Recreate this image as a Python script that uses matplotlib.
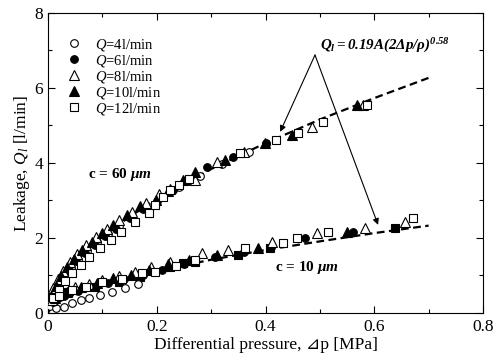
import matplotlib
matplotlib.use("Agg")
import matplotlib.pyplot as plt
from matplotlib.ticker import MultipleLocator

plt.rcParams['font.family'] = ['Liberation Serif', 'DejaVu Serif', 'DejaVu Sans']
plt.rcParams['mathtext.fontset'] = 'custom'
plt.rcParams['mathtext.rm'] = 'Liberation Serif'
plt.rcParams['mathtext.it'] = 'Liberation Serif:italic'
plt.rcParams['mathtext.bf'] = 'Liberation Serif:bold:italic'

# ---- data: differential pressure [MPa], leakage [l/min]
# clearance c = 60 um
p60_q4 = [0.005, 0.012, 0.02, 0.03, 0.042, 0.056, 0.072, 0.09, 0.11, 0.13, 0.155, 0.18, 0.21, 0.24, 0.28, 0.32, 0.37, 0.40]
l60_q4 = [0.30, 0.55, 0.78, 0.98, 1.20, 1.42, 1.64, 1.88, 2.10, 2.33, 2.58, 2.82, 3.10, 3.35, 3.66, 3.96, 4.30, 4.50]
p60_q6 = [0.008, 0.016, 0.026, 0.038, 0.052, 0.068, 0.086, 0.105, 0.125, 0.15, 0.175, 0.2, 0.23, 0.26, 0.292, 0.34, 0.40]
l60_q6 = [0.42, 0.68, 0.92, 1.15, 1.38, 1.60, 1.82, 2.05, 2.25, 2.52, 2.76, 2.98, 3.27, 3.52, 3.89, 4.15, 4.52]
p60_q8 = [0.004, 0.01, 0.018, 0.028, 0.04, 0.054, 0.07, 0.088, 0.108, 0.13, 0.155, 0.18, 0.205, 0.225, 0.27, 0.311, 0.36, 0.486, 0.58]
l60_q8 = [0.40, 0.66, 0.90, 1.12, 1.36, 1.58, 1.80, 2.02, 2.25, 2.47, 2.70, 2.93, 3.16, 3.30, 3.55, 4.03, 4.28, 4.96, 5.55]
p60_q10 = [0.006, 0.014, 0.024, 0.035, 0.048, 0.063, 0.08, 0.1, 0.12, 0.145, 0.17, 0.198, 0.22, 0.248, 0.27, 0.325, 0.399, 0.449, 0.568]
l60_q10 = [0.45, 0.72, 0.98, 1.22, 1.45, 1.68, 1.90, 2.12, 2.35, 2.60, 2.85, 3.00, 3.25, 3.55, 3.76, 4.08, 4.53, 4.75, 5.55]
p60_q12 = [0.01, 0.02, 0.032, 0.045, 0.06, 0.076, 0.095, 0.115, 0.135, 0.16, 0.185, 0.197, 0.211, 0.224, 0.24, 0.26, 0.353, 0.42, 0.46, 0.506, 0.586]
l60_q12 = [0.40, 0.62, 0.85, 1.06, 1.28, 1.50, 1.72, 1.95, 2.17, 2.42, 2.66, 2.88, 3.09, 3.28, 3.42, 3.58, 4.27, 4.60, 4.80, 5.09, 5.55]

# clearance c = 10 um
p10_q4 = [0.004, 0.015, 0.03, 0.045, 0.06, 0.075, 0.095, 0.118, 0.142, 0.165]
l10_q4 = [0.18, 0.14, 0.16, 0.26, 0.34, 0.40, 0.48, 0.56, 0.67, 0.76]
p10_q6 = [0.01, 0.03, 0.055, 0.08, 0.11, 0.14, 0.175, 0.21, 0.25, 0.307, 0.36, 0.473, 0.561]
l10_q6 = [0.30, 0.45, 0.58, 0.68, 0.80, 0.90, 1.02, 1.15, 1.30, 1.49, 1.62, 2.00, 2.16]
p10_q8 = [0.008, 0.025, 0.05, 0.075, 0.1, 0.13, 0.16, 0.19, 0.225, 0.283, 0.331, 0.412, 0.494, 0.583, 0.657]
l10_q8 = [0.35, 0.55, 0.70, 0.78, 0.88, 0.98, 1.10, 1.22, 1.35, 1.60, 1.68, 1.89, 2.13, 2.27, 2.43]
p10_q10 = [0.012, 0.035, 0.06, 0.09, 0.12, 0.152, 0.185, 0.221, 0.26, 0.31, 0.386, 0.55]
l10_q10 = [0.40, 0.55, 0.68, 0.80, 0.92, 1.02, 1.15, 1.30, 1.42, 1.55, 1.73, 2.16]
p10_q12 = [0.02, 0.045, 0.07, 0.1, 0.136, 0.173, 0.197, 0.235, 0.27, 0.362, 0.433, 0.458, 0.515, 0.671]
l10_q12 = [0.45, 0.60, 0.70, 0.82, 0.90, 1.07, 1.09, 1.25, 1.40, 1.73, 1.87, 2.00, 2.16, 2.53]
# dark squares seen in the lower group (overlapped points)
p10_dark = [0.037, 0.086, 0.13, 0.17, 0.224, 0.249, 0.27, 0.349, 0.408, 0.638]
l10_dark = [0.56, 0.69, 0.82, 0.95, 1.23, 1.33, 1.36, 1.55, 1.73, 2.27]

# fitted curves, values
p_fit = [0.0, 0.005, 0.01, 0.02, 0.04, 0.07, 0.1, 0.15, 0.2, 0.3, 0.4, 0.5, 0.6, 0.7]
l_fit60 = [0.0, 0.36, 0.53, 0.80, 1.19, 1.65, 2.03, 2.57, 3.03, 3.84, 4.53, 5.16, 5.73, 6.27]
l_fit10 = [0.0, 0.13, 0.20, 0.30, 0.44, 0.61, 0.75, 0.95, 1.12, 1.42, 1.68, 1.91, 2.13, 2.33]

labels = ['=4l/min', '=6l/min', '=8l/min', '=10l/min', '=12l/min']


def main():
    fig = plt.figure(figsize=(5.0, 3.61), dpi=100)
    ax = fig.add_axes([0.096, 0.133, 0.87, 0.831])

    ax.plot(p_fit, l_fit60, color='black', ls=(0, (3.5, 2)), lw=1.6, zorder=1)
    ax.plot(p_fit, l_fit10, color='black', ls=(0, (3.5, 2)), lw=1.6, zorder=1)

    styles = [('o', 'white', 5.5), ('o', 'black', 5.5), ('^', 'white', 6.5),
              ('^', 'black', 6.5), ('s', 'white', 6.0)]
    groups60 = [(p60_q4, l60_q4), (p60_q6, l60_q6), (p60_q8, l60_q8), (p60_q10, l60_q10), (p60_q12, l60_q12)]
    groups10 = [(p10_q4, l10_q4), (p10_q6, l10_q6), (p10_q8, l10_q8), (p10_q10, l10_q10), (p10_q12, l10_q12)]

    ax.plot(p10_dark, l10_dark, ls='none', marker='s', ms=6.0, mfc='black', mec='black', mew=0.8, zorder=2)
    handles = []
    for (mk, fc, ms), (px, ly), (qx, qy), lab in zip(styles, groups60, groups10, labels):
        h, = ax.plot(px, ly, ls='none', marker=mk, ms=ms, mfc=fc, mec='black', mew=0.8,
                     label=r'$Q$' + lab, zorder=3)
        ax.plot(qx, qy, ls='none', marker=mk, ms=ms, mfc=fc, mec='black', mew=0.8, zorder=3)
        handles.append(h)

    ax.legend(handles=handles, loc='upper left', bbox_to_anchor=(0.02, 0.955), frameon=False,
              fontsize=10.5, handlelength=1.0, handletextpad=0.9, labelspacing=0.0,
              borderaxespad=0.3)

    # formula and arrows
    ax.text(0.50, 6.88, r'$\mathbf{Q_l{=}0.19A(2\Delta p/\rho)^{0.58}}$', fontsize=10.8,
            ha='left', va='bottom')
    for tip in [(0.427, 4.83), (0.607, 2.35)]:
        ax.annotate('', xy=tip, xytext=(0.491, 6.88),
                    arrowprops=dict(arrowstyle='-|>', lw=0.8, color='black',
                                    mutation_scale=9, shrinkA=0, shrinkB=0))

    ax.text(0.074, 3.68, r'c = 60 $\mathbf{\mu m}$', fontsize=11, fontweight='bold',
            ha='left', va='center')
    ax.text(0.417, 1.20, r'c = 10 $\mathbf{\mu m}$', fontsize=11, fontweight='bold',
            ha='left', va='center')

    ax.set_xlim(0, 0.8)
    ax.set_ylim(0, 8)
    ax.xaxis.set_major_locator(MultipleLocator(0.2))
    ax.xaxis.set_minor_locator(MultipleLocator(0.1))
    ax.yaxis.set_major_locator(MultipleLocator(2))
    ax.yaxis.set_minor_locator(MultipleLocator(1))
    ax.set_xticks([0, 0.2, 0.4, 0.6, 0.8])
    ax.set_xticklabels(['0', '0.2', '0.4', '0.6', '0.8'])
    ax.tick_params(which='both', direction='in', top=True, right=True, labelsize=12.5)
    ax.tick_params(which='major', length=5, width=0.8)
    ax.tick_params(which='minor', length=3, width=0.8)
    ax.tick_params(axis='x', pad=4)
    for s in ax.spines.values():
        s.set_linewidth(0.8)

    ax.set_xlabel('Differential pressure, \u22bfp [MPa]', fontsize=12.5, labelpad=2)
    ax.set_ylabel(r'Leakage, $Q_l$ [l/min]', fontsize=12.5, labelpad=2)

    plt.savefig('out.png', dpi=100)


if __name__ == '__main__':
    main()
